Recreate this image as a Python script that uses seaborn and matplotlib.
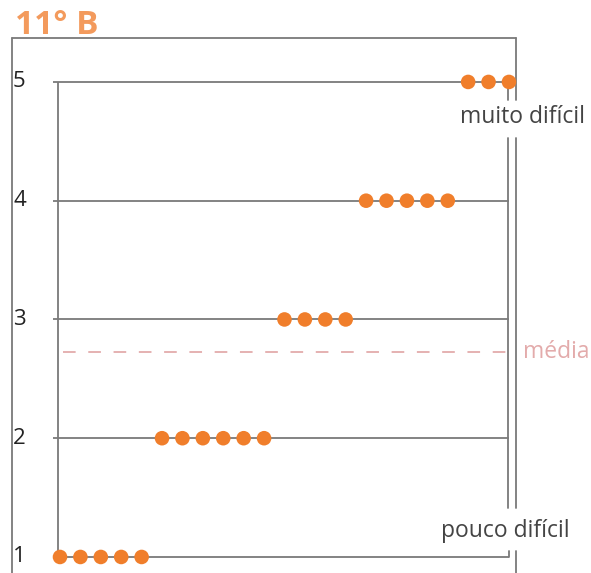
import numpy as np
import pandas as pd
import seaborn as sns
import matplotlib.pyplot as plt
from matplotlib.transforms import blended_transform_factory

# dados
titulo = "11° B"
niveis = [1, 2, 3, 4, 5]
contagens = [5, 6, 4, 5, 3]
media = 2.73
rotulo_alto = "muito difícil"
rotulo_baixo = "pouco difícil"
rotulo_media = "média"

laranja = "#F07E2B"
laranja_titulo = "#F39A5C"
cinza = "#7a7a7a"
texto = "#444444"
rosa = "#E3ABAB"

# one dot per answer, placed one after another
y = np.repeat(niveis, contagens)
df = pd.DataFrame({"pos": np.arange(len(y)), "nivel": y})
n = len(df)

W, H = 591, 573
sns.set_style("white")
plt.rcParams["font.family"] = ["Open Sans", "DejaVu Sans"]
fig = plt.figure(figsize=(W / 100, H / 100), dpi=100)
ax = fig.add_axes([0, 0, 1, 1])
ax.set_xlim(-2.94, 26.02)
ax.set_ylim(0.865, 5.69)
ax.axis("off")

def fx(px):
    return px / W

def fy(py):
    return 1 - py / H

# frame around the panel
ft = fig.transFigure
kw = dict(color=cinza, lw=1.3, transform=ft, clip_on=False)
ax.plot([fx(12), fx(12)], [fy(38), fy(573)], **kw)
ax.plot([fx(12), fx(516)], [fy(38), fy(38)], **kw)
ax.plot([fx(516), fx(516)], [fy(38), fy(100)], **kw)
ax.plot([fx(508), fx(508)], [fy(88), fy(100)], **kw)
ax.plot([fx(508), fx(508)], [fy(138), fy(508)], **kw)
ax.plot([fx(516), fx(516)], [fy(138), fy(508)], **kw)
ax.plot([fx(509), fx(509)], [fy(551), fy(557)], **kw)
ax.plot([fx(516), fx(516)], [fy(551), fy(573)], **kw)

# level lines
ax.hlines(niveis, -0.35, n - 1, color=cinza, lw=1.3, zorder=1)
ax.vlines(-0.1, min(niveis), max(niveis), color=cinza, lw=1.3, zorder=1)
ax.hlines(media, 0.15, n - 1, color=rosa, lw=1.3, linestyles=(0, (7, 7)), zorder=1)

sns.scatterplot(data=df, x="pos", y="nivel", color=laranja, s=110,
                edgecolor="none", ax=ax, zorder=3, clip_on=False)

tr = blended_transform_factory(fig.transFigure, ax.transData)
for v in niveis:
    ax.text(fx(13), v, str(v), transform=tr, ha="left", va="center",
            fontsize=16, color="#222222")

ax.text(fx(15), fy(26), titulo, transform=ft, ha="left", va="center",
        fontsize=24, fontweight="bold", color=laranja_titulo)
ax.text(fx(523), fy(117), rotulo_alto, transform=ft, ha="center", va="center",
        fontsize=16.5, color=texto)
ax.text(fx(505), fy(531), rotulo_baixo, transform=ft, ha="center", va="center",
        fontsize=16.5, color=texto)
ax.text(fx(523), media, rotulo_media, transform=tr, ha="left", va="center",
        fontsize=16.5, color=rosa)

fig.savefig("out.png", dpi=100)
